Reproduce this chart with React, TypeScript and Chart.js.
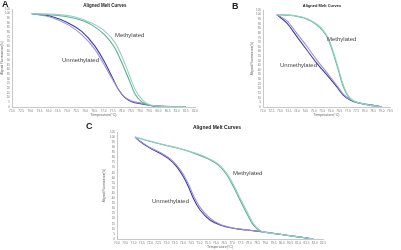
import React, { useEffect, useRef } from "react";
import { Chart, registerables } from "chart.js";

Chart.register(...registerables);

// ---------- Panel A data ----------
const aMethTemp = [73.08, 74.53, 75.44, 76.35, 77.08, 77.63, 77.99, 78.36, 78.72, 79.09, 79.45, 79.81, 80.5, 81.5];
const aMeth1 = [100, 99, 96.5, 90, 81, 69, 55, 37, 19, 8.5, 3, 1.4, 0.5, 0.2];
const aMeth2 = [100, 98, 95, 88, 77, 63, 48, 31, 14, 5.5, 2.1, 1, 0.4, 0.2];
const aUnTemp = [73.08, 74.17, 75.08, 75.81, 76.54, 77.08, 77.45, 77.81, 78.17, 78.54, 79.09, 79.63, 80.0, 81.5];
const aUn1 = [100, 97, 90, 81, 65, 47.5, 33, 19, 10, 5.7, 3.2, 1.4, 1, 0.2];
const aUn2 = [100, 96, 88, 77.5, 61.5, 44, 31, 19, 10.5, 6.5, 4, 1.6, 1, 0.2];

// ---------- Panel B data ----------
const bMethTemp = [72.81, 73.79, 74.58, 75.17, 75.56, 75.86, 76.15, 76.45, 76.74, 77.04, 77.33, 77.92, 78.52, 79.01];
const bMeth1 = [100, 98.9, 95.3, 89, 82, 73, 58, 40, 22, 11, 6.5, 3.3, 1, 0.2];
const bMeth2 = [100, 99, 95.8, 89.8, 83, 74.5, 60, 42, 24, 12, 7, 3.5, 1.2, 0.3];
const bUnTemp = [72.81, 73.4, 73.99, 74.58, 75.17, 75.76, 76.35, 76.74, 77.14, 77.73, 78.52, 79.01];
const bUn1 = [100, 91, 76.5, 62, 47.5, 35, 22, 13, 7.6, 4, 1.8, 0.2];
const bUn2 = [100, 93.5, 80, 66, 51, 37.5, 23.5, 14, 8, 4.2, 1.8, 0.3];

// ---------- Panel C data ----------
const cMethTemp = [71.09, 71.8, 72.81, 73.82, 74.84, 75.44, 75.84, 76.25, 76.66, 77.06, 77.46, 77.87, 78.27, 78.68, 78.88, 79.89, 80.9, 81.91];
const cMeth1 = [100, 96.7, 92.4, 88.5, 83.3, 79.3, 76, 71, 63, 51.5, 38.3, 25.2, 13.8, 7.9, 6.9, 4.6, 2.3, 0];
const cMeth2 = [100, 96.9, 92.7, 88.9, 83.8, 80, 76.8, 72, 64.5, 53.5, 40.5, 27.5, 15.5, 8.5, 7.0, 4.6, 2.3, 0];
const cUnTemp = [71.09, 71.4, 72.0, 72.61, 73.22, 73.62, 74.02, 74.33, 74.63, 75.04, 75.64, 76.25, 77.06, 77.87, 78.88, 79.89, 80.9, 81.91];
const cUn1 = [100, 95.7, 89.2, 84.2, 77.7, 71.1, 61.3, 51.5, 40, 28.5, 18.7, 13.8, 10.5, 8.8, 6.9, 4.6, 2.3, 0];
const cUn2 = [100, 96, 89.8, 85, 78.8, 72.5, 63.5, 54, 43, 31, 20.5, 14.5, 10.8, 9, 7, 4.6, 2.3, 0];

// ---------- Axis ranges / labels ----------
const xRangeA = [72.0, 82.0];
const xRangeB = [72.0, 79.5];
const xRangeC = [70.0, 82.5];
const xStep = 0.5;
const yRange = [0, 105];
const yStep = 5;
const chartTitle = "Aligned Melt Curves";
const xTitle = "Temperature(°C)";
const yTitle = "Aligned Fluorescence(%)";
const methLabel = "Methylated";
const unLabel = "Unmethylated";
const panelLetters = ["A", "B", "C"];

const COL_METH1 = "#93d3c9";
const COL_METH2 = "#5fae8e";
const COL_UN1 = "#3a3c9e";
const COL_UN2 = "#9a90d6";

const FONT = "'Liberation Sans', Arial, sans-serif";

function pts(xs: number[], ys: number[]) {
  return xs.map((x, i) => ({ x, y: ys[i] }));
}

type PanelSpec = {
  left: number; top: number; w: number; h: number;
  pad: { left: number; top: number; right: number; bottom: number };
  yW: number; xH: number;
  xr: number[];
  series: { data: { x: number; y: number }[]; color: string }[];
};

const panels: PanelSpec[] = [
  {
    left: 0, top: 0, w: 200, h: 120,
    pad: { left: 0, top: 9, right: 5, bottom: 3 }, yW: 12, xH: 10, xr: xRangeA,
    series: [
      { data: pts(aMethTemp, aMeth1), color: COL_METH1 },
      { data: pts(aMethTemp, aMeth2), color: COL_METH2 },
      { data: pts(aUnTemp, aUn2), color: COL_UN2 },
      { data: pts(aUnTemp, aUn1), color: COL_UN1 },
    ],
  },
  {
    left: 200, top: 0, w: 201, h: 120,
    pad: { left: 50, top: 10, right: 11, bottom: 3 }, yW: 13, xH: 10, xr: xRangeB,
    series: [
      { data: pts(bMethTemp, bMeth2), color: COL_METH1 },
      { data: pts(bMethTemp, bMeth1), color: COL_METH2 },
      { data: pts(bUnTemp, bUn2), color: COL_UN2 },
      { data: pts(bUnTemp, bUn1), color: COL_UN1 },
    ],
  },
  {
    left: 80, top: 120, w: 260, h: 130,
    pad: { left: 22, top: 12, right: 17, bottom: 1 }, yW: 15, xH: 10, xr: xRangeC,
    series: [
      { data: pts(cMethTemp, cMeth2), color: COL_METH1 },
      { data: pts(cMethTemp, cMeth1), color: COL_METH2 },
      { data: pts(cUnTemp, cUn2), color: COL_UN2 },
      { data: pts(cUnTemp, cUn1), color: COL_UN1 },
    ],
  },
];

const texts = [
  { t: panelLetters[0], x: 2, y: 0, s: 9, b: true, c: false },
  { t: panelLetters[1], x: 232, y: 2, s: 9, b: true, c: false },
  { t: panelLetters[2], x: 86, y: 122, s: 9, b: true, c: false },
  { t: chartTitle, x: 105, y: 4, s: 4.5, b: true, c: true },
  { t: chartTitle, x: 322, y: 4, s: 4, b: true, c: true },
  { t: chartTitle, x: 217, y: 124.5, s: 5, b: true, c: true },
  { t: methLabel, x: 115, y: 31.5, s: 6, b: false, c: false },
  { t: unLabel, x: 62, y: 57, s: 6, b: false, c: false },
  { t: methLabel, x: 327, y: 36, s: 6, b: false, c: false },
  { t: unLabel, x: 280, y: 61.5, s: 6, b: false, c: false },
  { t: methLabel, x: 233, y: 170, s: 6, b: false, c: false },
  { t: unLabel, x: 152, y: 198, s: 6, b: false, c: false },
];

export default function App() {
  const refs = [useRef<HTMLCanvasElement>(null), useRef<HTMLCanvasElement>(null), useRef<HTMLCanvasElement>(null)];

  useEffect(() => {
    const charts: Chart[] = [];
    panels.forEach((p, i) => {
      const cv = refs[i].current;
      if (!cv) return;
      const ch = new Chart(cv, {
        type: "line",
        data: {
          datasets: p.series.map((s) => ({
            data: s.data,
            borderColor: s.color,
            borderWidth: 1.1,
            pointRadius: 0,
            fill: false,
            cubicInterpolationMode: "monotone" as const,
          })),
        },
        options: {
          animation: false,
          responsive: false,
          maintainAspectRatio: false,
          devicePixelRatio: 1,
          layout: { padding: p.pad },
          plugins: { legend: { display: false }, title: { display: false }, tooltip: { enabled: false } },
          scales: {
            x: {
              type: "linear",
              min: p.xr[0],
              max: p.xr[1],
              grid: { display: false, drawTicks: false, tickLength: 0 },
              border: { display: true, color: "#c8c8c8", width: 1 },
              ticks: {
                stepSize: xStep,
                autoSkip: false,
                maxRotation: 0,
                padding: 2,
                font: { size: 3, family: FONT },
                color: "#777",
                callback: (v: any) => Number(v).toFixed(1),
              },
              title: { display: true, text: xTitle, font: { size: 3.5, family: FONT }, color: "#666", padding: 0 },
              afterFit: (s: any) => { s.height = p.xH; },
            },
            y: {
              min: yRange[0],
              max: yRange[1],
              grid: { display: false, drawTicks: false, tickLength: 0 },
              border: { display: true, color: "#c8c8c8", width: 1 },
              ticks: {
                stepSize: yStep,
                autoSkip: false,
                padding: 2,
                font: { size: 3, family: FONT },
                color: "#777",
              },
              title: { display: true, text: yTitle, font: { size: 3, family: FONT }, color: "#666", padding: 0 },
              afterFit: (s: any) => { s.width = p.yW; },
            },
          },
        },
      } as any);
      charts.push(ch);
    });
    return () => charts.forEach((c) => c.destroy());
  }, []);

  return (
    <div style={{ position: "fixed", left: 0, top: 0, width: 401, height: 250, background: "#fff", overflow: "hidden", fontFamily: FONT }}>
      {panels.map((p, i) => (
        <canvas
          key={i}
          ref={refs[i]}
          width={p.w}
          height={p.h}
          style={{ position: "absolute", left: p.left, top: p.top, width: p.w, height: p.h }}
        />
      ))}
      {texts.map((t, i) => (
        <div
          key={"t" + i}
          style={{
            position: "absolute",
            left: t.x,
            top: t.y,
            fontSize: t.s,
            lineHeight: `${t.s}px`,
            fontWeight: t.b ? "bold" : "normal",
            color: t.b ? "#222" : "#444",
            whiteSpace: "nowrap",
            transform: t.c ? "translateX(-50%)" : undefined,
          }}
        >
          {t.t}
        </div>
      ))}
    </div>
  );
}
